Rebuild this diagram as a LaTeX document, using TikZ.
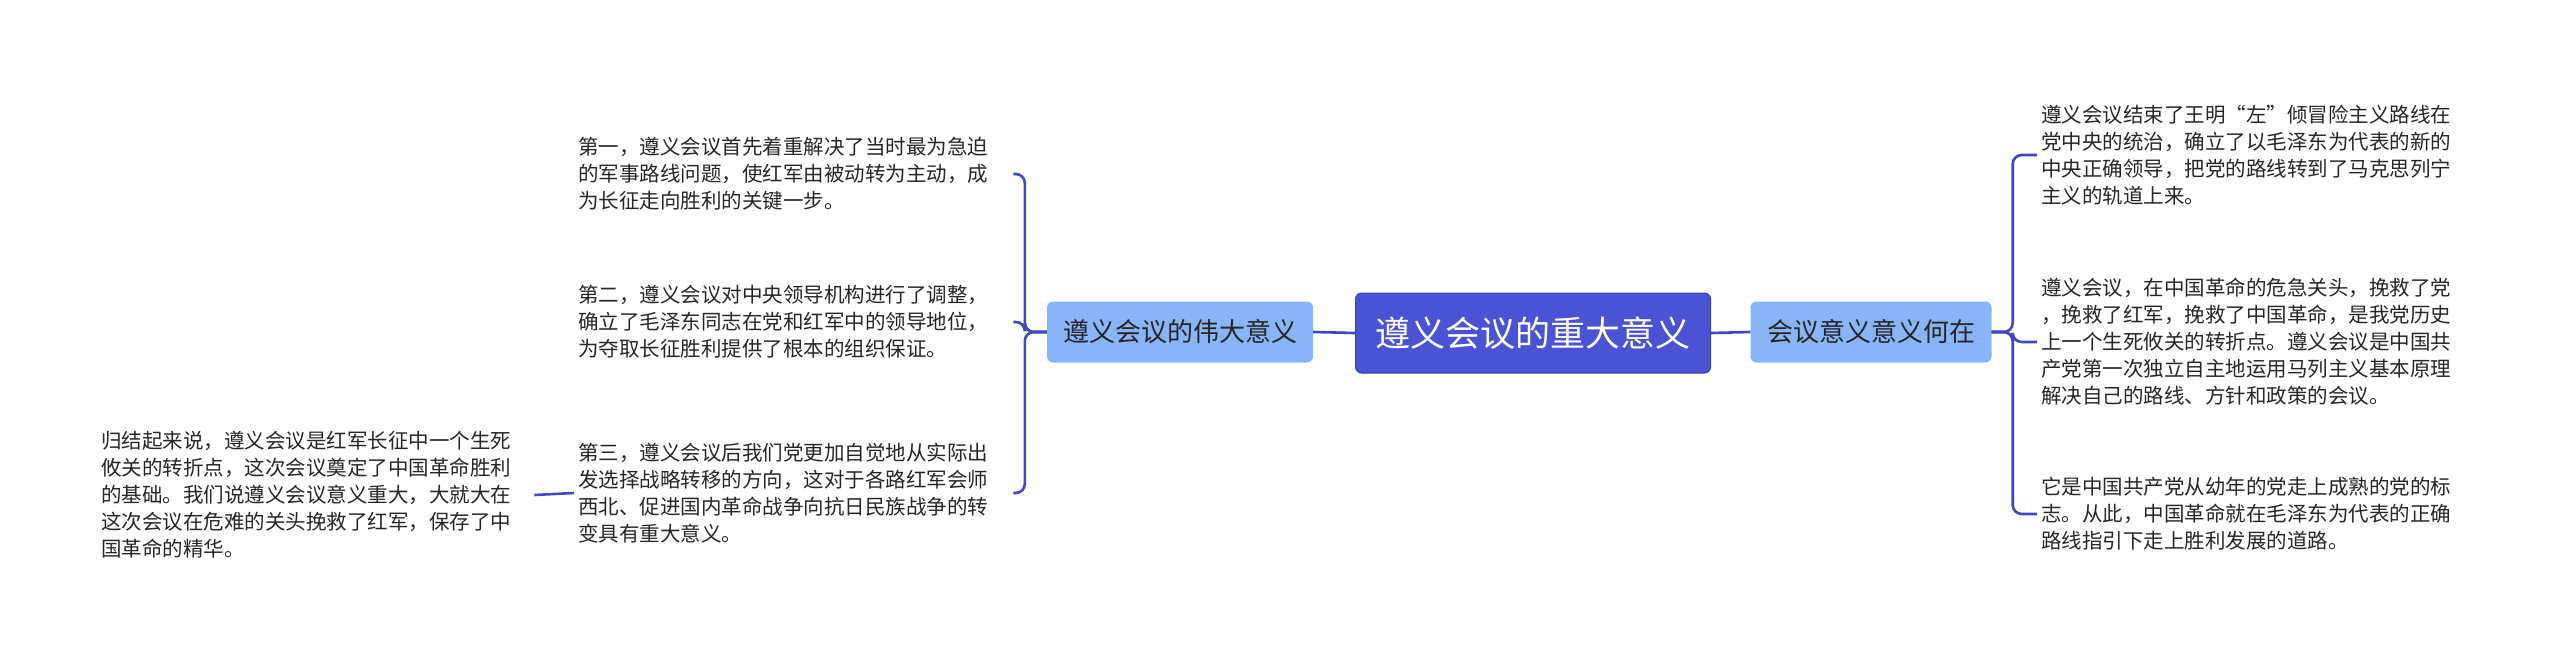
\documentclass[tikz,border=0pt]{standalone}
\usepackage{fontspec}
\newfontfamily\cjk{Noto Sans CJK SC}
\begin{document}
\begin{tikzpicture}[x=1pt,y=-1pt,
  leaf/.style={anchor=west,inner sep=4pt,text width=425pt,align=left,font=\cjk\fontsize{20.5}{27}\selectfont,text=black!85},
  br/.style={fill=blue!35!cyan!40!white,fill=mybr,rounded corners=6pt,inner xsep=12pt,minimum height=61pt,font=\cjk\fontsize{26}{30}\selectfont,text=black!85},
  link/.style={draw=mylink,line width=2.6pt,rounded corners=9pt}]
\definecolor{mybr}{HTML}{8AB4F8}
\definecolor{mylink}{HTML}{3F48C0}
\definecolor{myroot}{HTML}{4A52D6}
\useasboundingbox (0,0) rectangle (2560,661);
\node[fill=myroot,draw=myroot!80!black,line width=1pt,rounded corners=6pt,minimum width=355pt,minimum height=80pt,font=\cjk\fontsize{35}{40}\selectfont,text=white] (root) at (1533,333) {遵义会议的重大意义};
\node[br,minimum width=266pt] (lb) at (1180,332) {遵义会议的伟大意义};
\node[br,minimum width=241pt] (rb) at (1871,332) {会议意义意义何在};
\node[leaf] (l1) at (574,174) {第一，遵义会议首先着重解决了当时最为急迫\\的军事路线问题，使红军由被动转为主动，成\\为长征走向胜利的关键一步。};
\node[leaf] (l2) at (574,322) {第二，遵义会议对中央领导机构进行了调整，\\确立了毛泽东同志在党和红军中的领导地位，\\为夺取长征胜利提供了根本的组织保证。};
\node[leaf] (l3) at (574,493) {第三，遵义会议后我们党更加自觉地从实际出\\发选择战略转移的方向，这对于各路红军会师\\西北、促进国内革命战争向抗日民族战争的转\\变具有重大意义。};
\node[leaf] (ll) at (97,495) {归结起来说，遵义会议是红军长征中一个生死\\攸关的转折点，这次会议奠定了中国革命胜利\\的基础。我们说遵义会议意义重大，大就大在\\这次会议在危难的关头挽救了红军，保存了中\\国革命的精华。};
\node[leaf] (r1) at (2037,155) {遵义会议结束了王明“左”倾冒险主义路线在\\党中央的统治，确立了以毛泽东为代表的新的\\中央正确领导，把党的路线转到了马克思列宁\\主义的轨道上来。};
\node[leaf] (r2) at (2037,342) {遵义会议，在中国革命的危急关头，挽救了党\\，挽救了红军，挽救了中国革命，是我党历史\\上一个生死攸关的转折点。遵义会议是中国共\\产党第一次独立自主地运用马列主义基本原理\\解决自己的路线、方针和政策的会议。};
\node[leaf] (r3) at (2037,514) {它是中国共产党从幼年的党走上成熟的党的标\\志。从此，中国革命就在毛泽东为代表的正确\\路线指引下走上胜利发展的道路。};
\draw[link] (root.west) -- (lb.east);
\draw[link] (root.east) -- (rb.west);
\foreach \n in {l1,l2,l3} \draw[link] (lb.west) -- ++(-22,0) |- ([xshift=6pt]\n.east);
\foreach \n in {r1,r2,r3} \draw[link] (rb.east) -- ++(21,0) |- (\n.west);
\draw[link] (l3.west) -- ([xshift=4pt]ll.east);
\end{tikzpicture}
\end{document}
